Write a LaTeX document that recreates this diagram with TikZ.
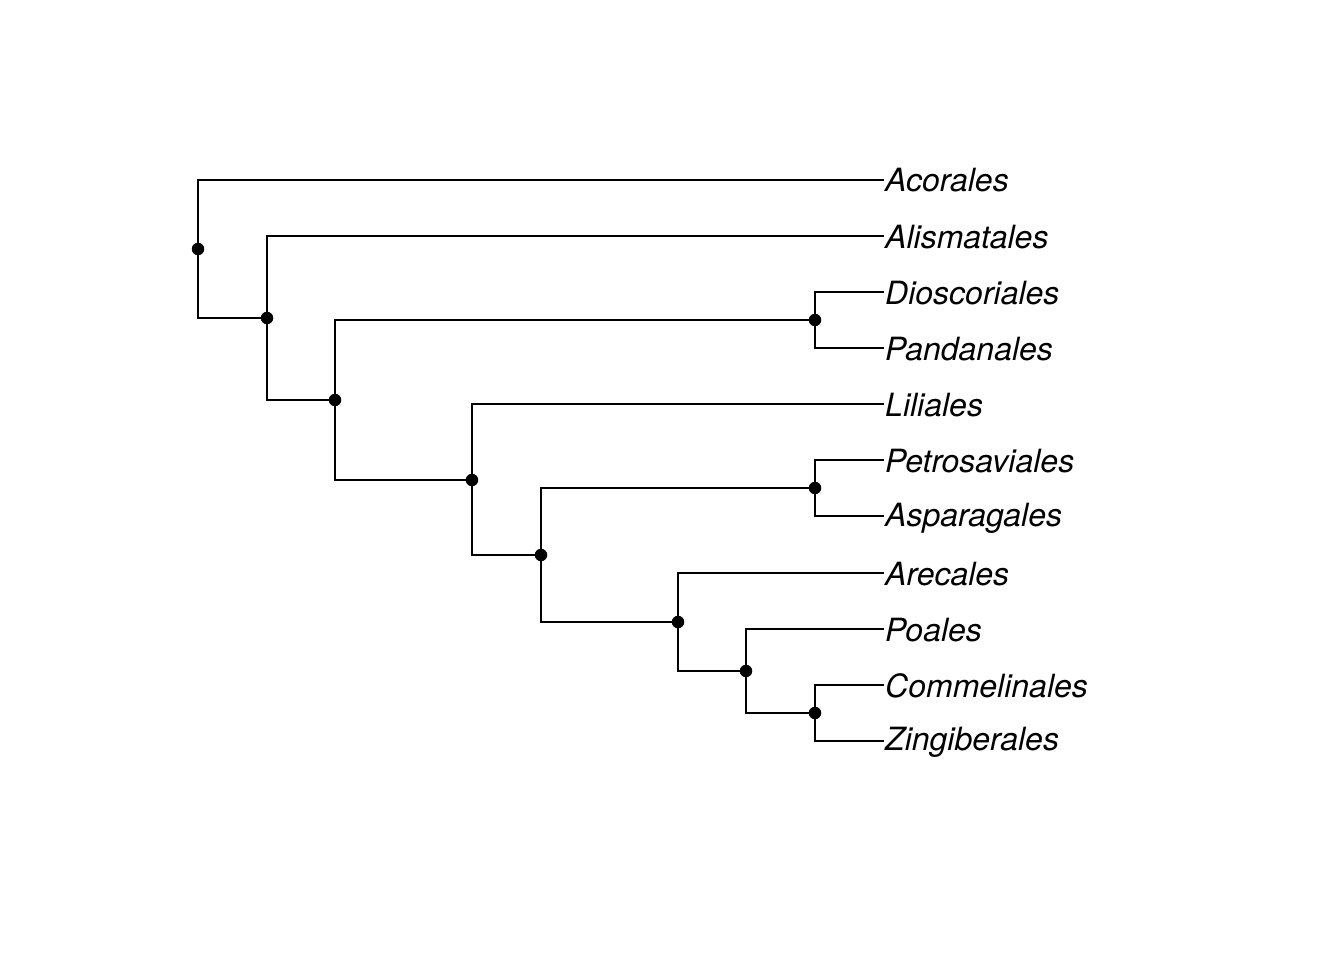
\documentclass[tikz,border=0pt]{standalone}
\usepackage{fontspec}
\setmainfont{TeX Gyre Heros}
\begin{document}
\begin{tikzpicture}[x=1pt,y=-1pt,
  dot/.style={circle,fill=black,inner sep=0pt,minimum size=12.5pt},
  lab/.style={anchor=base west,inner sep=0pt,font=\fontsize{32}{36}\selectfont\itshape},
  br/.style={line width=2pt}]
\useasboundingbox (0,0) rectangle (1344,960);
% internal nodes
\node[dot] (n1) at (198,249) {};
\node[dot] (n2) at (267,318) {};
\node[dot] (n3) at (335,400) {};
\node[dot] (n4) at (815,320) {};
\node[dot] (n5) at (472,480) {};
\node[dot] (n6) at (541,555) {};
\node[dot] (n7) at (815,488) {};
\node[dot] (n8) at (678,622) {};
\node[dot] (n9) at (746,671) {};
\node[dot] (n10) at (815,713) {};
% tips
\coordinate (tA) at (884,180);
\coordinate (tB) at (884,236);
\coordinate (tC) at (884,292);
\coordinate (tD) at (884,348);
\coordinate (tE) at (884,404);
\coordinate (tF) at (884,460);
\coordinate (tG) at (884,516);
\coordinate (tH) at (884,573);
\coordinate (tI) at (884,629);
\coordinate (tJ) at (884,685);
\coordinate (tK) at (884,741);
% labels
\node[lab] (lA) at (885,192) {Acorales};
\node[lab] (lB) at (885,248) {Alismatales};
\node[lab] (lC) at (885,304) {Dioscoriales};
\node[lab] (lD) at (885,360) {Pandanales};
\node[lab] (lE) at (885,416) {Liliales};
\node[lab] (lF) at (885,472) {Petrosaviales};
\node[lab] (lG) at (885,526) {Asparagales};
\node[lab] (lH) at (885,585) {Arecales};
\node[lab] (lI) at (885,641) {Poales};
\node[lab] (lJ) at (885,697) {Commelinales};
\node[lab] (lK) at (885,750) {Zingiberales};
% branches
\draw[br] (n1) |- (tA);
\draw[br] (n1) |- (n2);
\draw[br] (n2) |- (tB);
\draw[br] (n2) |- (n3);
\draw[br] (n3) |- (n4);
\draw[br] (n3) |- (n5);
\draw[br] (n4) |- (tC);
\draw[br] (n4) |- (tD);
\draw[br] (n5) |- (tE);
\draw[br] (n5) |- (n6);
\draw[br] (n6) |- (n7);
\draw[br] (n6) |- (n8);
\draw[br] (n7) |- (tF);
\draw[br] (n7) |- (tG);
\draw[br] (n8) |- (tH);
\draw[br] (n8) |- (n9);
\draw[br] (n9) |- (tI);
\draw[br] (n9) |- (n10);
\draw[br] (n10) |- (tJ);
\draw[br] (n10) |- (tK);
\end{tikzpicture}
\end{document}
